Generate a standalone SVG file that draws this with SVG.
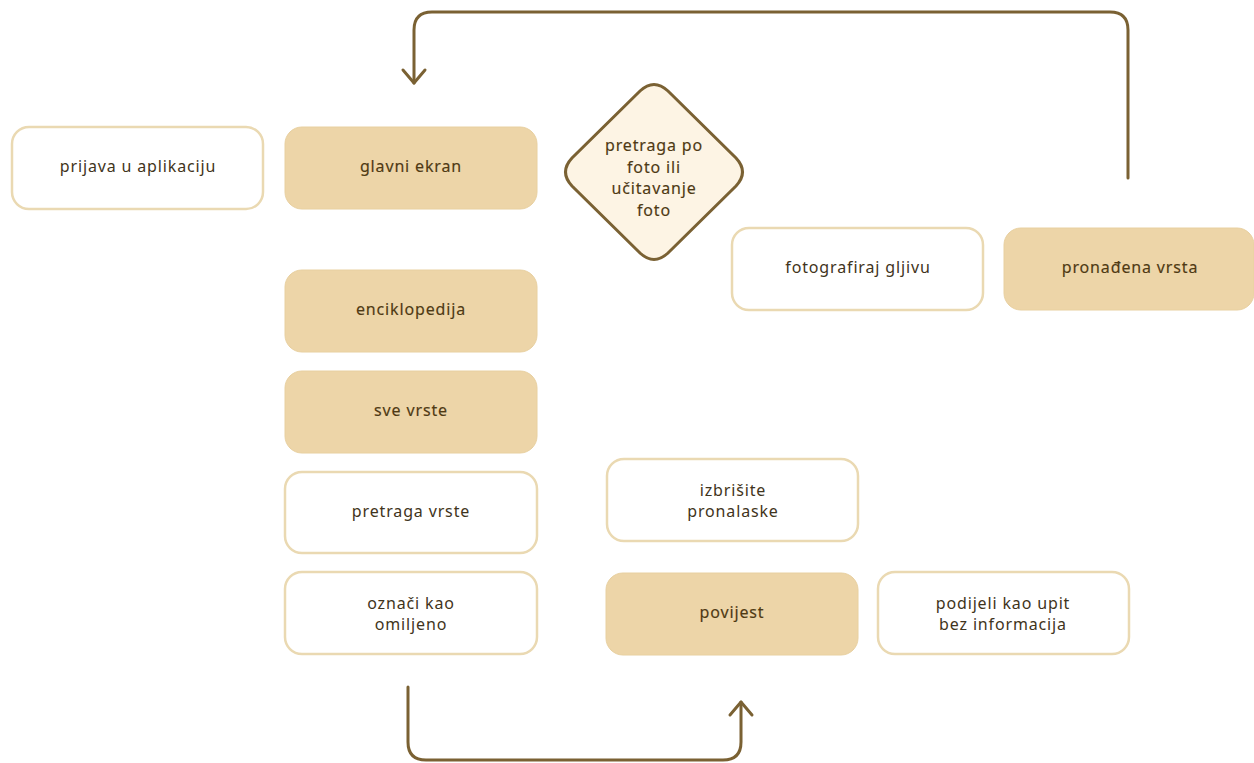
<svg xmlns="http://www.w3.org/2000/svg" width="1254" height="763" viewBox="0 0 1254 763">
<defs>
<style>
.w{fill:#ffffff;stroke:#ead9b2;stroke-width:2.5}
.f{fill:#edd5a8;stroke:#e8d0a0;stroke-width:1}
.t{font-family:"Noto Sans",Lato,sans-serif;font-size:16px;letter-spacing:0.85px;fill:#3f3420;text-anchor:middle}
.tf{font-family:"Noto Sans",Lato,sans-serif;font-size:16px;letter-spacing:0.85px;fill:#4f3a14;text-anchor:middle;stroke:#4f3a14;stroke-width:0.15}
.c{fill:none;stroke:#7a6133;stroke-width:3;stroke-linecap:round;stroke-linejoin:round}
</style>
</defs>
<rect width="1254" height="763" fill="#ffffff"/>
<g id="connectors">
<path class="c" d="M1128,178 V30 Q1128,12 1110,12 H432 Q414,12 414,30 V83"/>
<path class="c" d="M403,70 L414,83 L425,70"/>
<path class="c" d="M408,687 V742 Q408,760 426,760 H723 Q741,760 741,742 V702"/>
<path class="c" d="M730,715 L741,702 L752,715"/>
</g>
<g id="n-prijava"><rect class="w" x="12" y="127" width="251" height="82" rx="17"/><text class="t" x="138" y="172">prijava u aplikaciju</text></g>
<g id="n-glavni"><rect class="f" x="285" y="127" width="252" height="82" rx="17"/><text class="tf" x="411" y="172">glavni ekran</text></g>
<g id="n-pretraga-foto"><path d="M640,91 Q654,78 668,91 L736,158 Q749,172 736,186 L668,253 Q654,266 640,253 L572,186 Q559,172 572,158 Z" fill="#fdf4e4" stroke="#7a6133" stroke-width="3"/>
<text class="tf" x="654" y="151">pretraga po</text><text class="tf" x="654" y="172.5">foto ili</text><text class="tf" x="654" y="194">učitavanje</text><text class="tf" x="654" y="215.5">foto</text></g>
<g id="n-fotografiraj"><rect class="w" x="732" y="228" width="251" height="82" rx="17"/><text class="t" x="858" y="273">fotografiraj gljivu</text></g>
<g id="n-pronadena"><rect class="f" x="1004" y="228" width="250" height="82" rx="17"/><text class="tf" x="1130" y="273">pronađena vrsta</text></g>
<g id="n-enciklopedija"><rect class="f" x="285" y="270" width="252" height="82" rx="17"/><text class="tf" x="411" y="315">enciklopedija</text></g>
<g id="n-sve"><rect class="f" x="285" y="371" width="252" height="82" rx="17"/><text class="tf" x="411" y="416">sve vrste</text></g>
<g id="n-pretraga-vrste"><rect class="w" x="285" y="472" width="252" height="81" rx="17"/><text class="t" x="411" y="517">pretraga vrste</text></g>
<g id="n-oznaci"><rect class="w" x="285" y="572" width="252" height="82" rx="17"/><text class="t" x="411" y="608.5">označi kao</text><text class="t" x="411" y="630">omiljeno</text></g>
<g id="n-izbrisite"><rect class="w" x="607" y="459" width="251" height="82" rx="17"/><text class="t" x="733" y="495.5">izbrišite</text><text class="t" x="733" y="517">pronalaske</text></g>
<g id="n-povijest"><rect class="f" x="606" y="573" width="252" height="82" rx="17"/><text class="tf" x="732" y="618">povijest</text></g>
<g id="n-podijeli"><rect class="w" x="878" y="572" width="251" height="82" rx="17"/><text class="t" x="1003" y="608.5">podijeli kao upit</text><text class="t" x="1003" y="630">bez informacija</text></g>
</svg>
